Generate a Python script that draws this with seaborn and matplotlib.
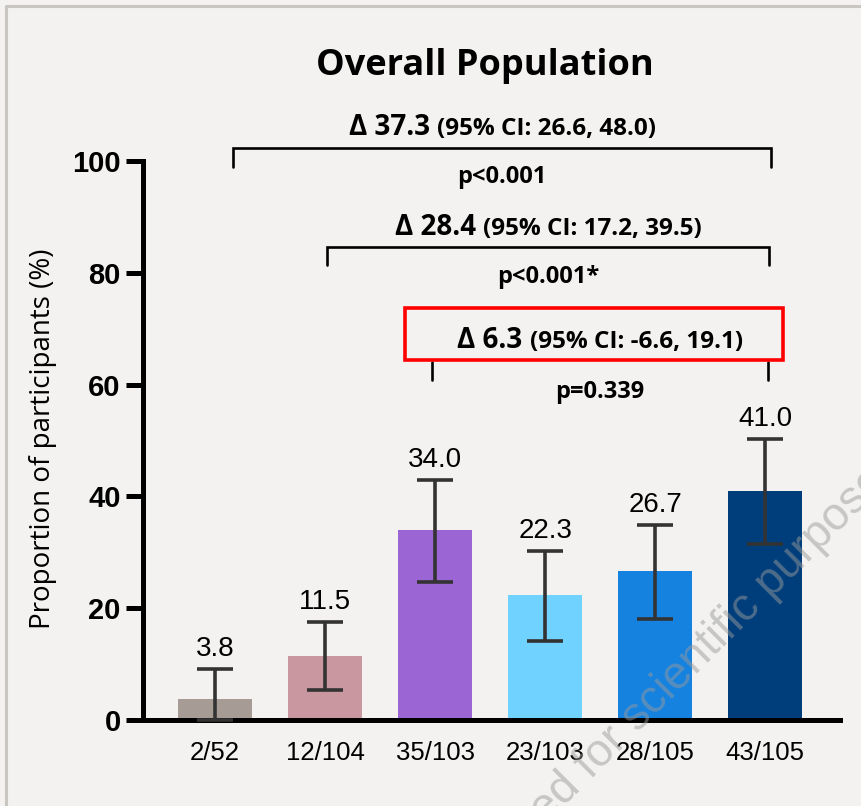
import matplotlib
matplotlib.use("Agg")
import matplotlib.pyplot as plt
import matplotlib.lines as mlines
from matplotlib.patches import Rectangle
import seaborn as sns
import numpy as np

# data
counts = ["2/52", "12/104", "35/103", "23/103", "28/105", "43/105"]
percent = [3.8, 11.5, 34.0, 22.3, 26.7, 41.0]
ci_low = [0.0, 5.3, 24.7, 14.1, 18.0, 31.4]
ci_high = [9.1, 17.6, 42.9, 30.2, 34.8, 50.3]
bar_colors = ["#a69b95", "#c8979f", "#9b65d3", "#70d2fe", "#1582e0", "#003e7b"]

deltas = ["\u0394 37.3", "\u0394 28.4", "\u0394 6.3"]
delta_ci = ["(95% CI: 26.6, 48.0)", "(95% CI: 17.2, 39.5)", "(95% CI: -6.6, 19.1)"]
p_texts = ["p<0.001", "p<0.001*", "p=0.339"]

BG = "#f3f2f0"
sns.set_style("ticks")
plt.rcParams["font.family"] = ["Liberation Sans", "DejaVu Sans"]
plt.rcParams.update({"text.color": "black", "axes.labelcolor": "black",
                     "xtick.color": "black", "ytick.color": "black"})

fig = plt.figure(figsize=(8.61, 8.06), dpi=100, facecolor=BG)
ax = fig.add_axes([143 / 861, 1 - 720 / 806, 697 / 861, 559 / 806])
ax.set_facecolor(BG)

sns.barplot(x=counts, y=percent, hue=counts, palette=dict(zip(counts, bar_colors)),
            legend=False, width=0.673, saturation=1, linewidth=0, ax=ax)

pos = np.arange(len(counts))
vals = np.array(percent)
ax.errorbar(pos, vals, yerr=[vals - np.array(ci_low), np.array(ci_high) - vals],
            fmt="none", ecolor="#333333", elinewidth=2.6, capsize=13, capthick=2.6,
            zorder=4, clip_on=False)

for x, hi, v in zip(pos, ci_high, percent):
    ax.annotate(f"{v:.1f}", xy=(x, hi), xytext=(0, 13), textcoords="offset pixels",
                ha="center", va="baseline", fontsize=20, color="black")

ax.set_xlim(-0.655, 5.68)
ax.set_ylim(0, 100)
ax.set_yticks([0, 20, 40, 60, 80, 100])
for lab in ax.get_yticklabels():
    lab.set_fontweight("bold")
ax.tick_params(axis="y", length=12, width=3.6, pad=4, labelsize=21)
ax.tick_params(axis="x", length=0, pad=15, labelsize=18.5)
ax.set_xlabel("")
sns.despine(ax=ax)
for s in ("left", "bottom"):
    ax.spines[s].set_linewidth(3.6)
    ax.spines[s].set_color("black")

ax.set_ylabel("Proportion of participants (%)", fontsize=20, family="Open Sans")
ax.yaxis.set_label_coords(-0.123, 0.504)

fig.text(485 / 861, 1 - 75 / 806, "Overall Population", ha="center", va="baseline",
         fontsize=26, fontweight="bold", family="Open Sans")

# comparison brackets: (x left, x right, line y, tick bottom y, label baseline, p baseline, draw top line)
brackets = [
    (0.164, 5.055, 102.3, 98.9, 104.6, 96.1, True),
    (1.018, 5.036, 84.6, 81.4, 86.8, 78.2, True),
    (1.973, 5.027, 64.0, 60.8, 66.5, 57.6, False),
]
renderer = fig.canvas.get_renderer()
for (x0, x1, yl, yb, yt, yp, hline), big, small, ptxt in zip(brackets, deltas, delta_ci, p_texts):
    if hline:
        ax.plot([x0, x0, x1, x1], [yb, yl, yl, yb], color="black", lw=1.9,
                clip_on=False, solid_joinstyle="miter")
    else:
        ax.plot([x0, x0], [yb, yl], color="black", lw=1.9, clip_on=False)
        ax.plot([x1, x1], [yb, yl], color="black", lw=1.9, clip_on=False)
    xc = (x0 + x1) / 2
    t1 = ax.annotate(big, xy=(xc, yt), ha="left", va="baseline", fontsize=20,
                     fontweight="bold", family="Open Sans", annotation_clip=False)
    t2 = ax.annotate(small, xy=(xc, yt), ha="left", va="baseline", fontsize=17.5,
                     fontweight="bold", family="Open Sans", annotation_clip=False)
    w1 = t1.get_window_extent(renderer).width
    w2 = t2.get_window_extent(renderer).width
    gap = 7
    left = -(w1 + gap + w2) / 2
    t1.set_position((left, 0))
    t1.set_anncoords("offset pixels")
    t2.set_position((left + w1 + gap, 0))
    t2.set_anncoords("offset pixels")
    ax.text(xc, yp, ptxt, ha="center", va="baseline", fontsize=17, fontweight="bold",
            family="Open Sans", clip_on=False)

ax.add_patch(Rectangle((1.727, 64.4), 5.164 - 1.727, 73.7 - 64.4, fill=False,
                       edgecolor="#ff0000", lw=2.6, clip_on=False, zorder=5))

# watermark
fig.text(546 / 861, 1 - 825 / 806, "ed for scientific purposes", rotation=45,
         rotation_mode="anchor", ha="left", va="baseline", fontsize=33,
         color="#9a9a9a", alpha=0.5, zorder=10)

# screenshot frame
fig.add_artist(mlines.Line2D([6 / 861, 1], [1 - 6 / 806, 1 - 6 / 806],
                             color="#c9c5c0", lw=2.2, transform=fig.transFigure))
fig.add_artist(mlines.Line2D([6 / 861, 6 / 861], [0, 1 - 6 / 806],
                             color="#c9c5c0", lw=2.2, transform=fig.transFigure))

fig.savefig("out.png", dpi=100, facecolor=BG)
